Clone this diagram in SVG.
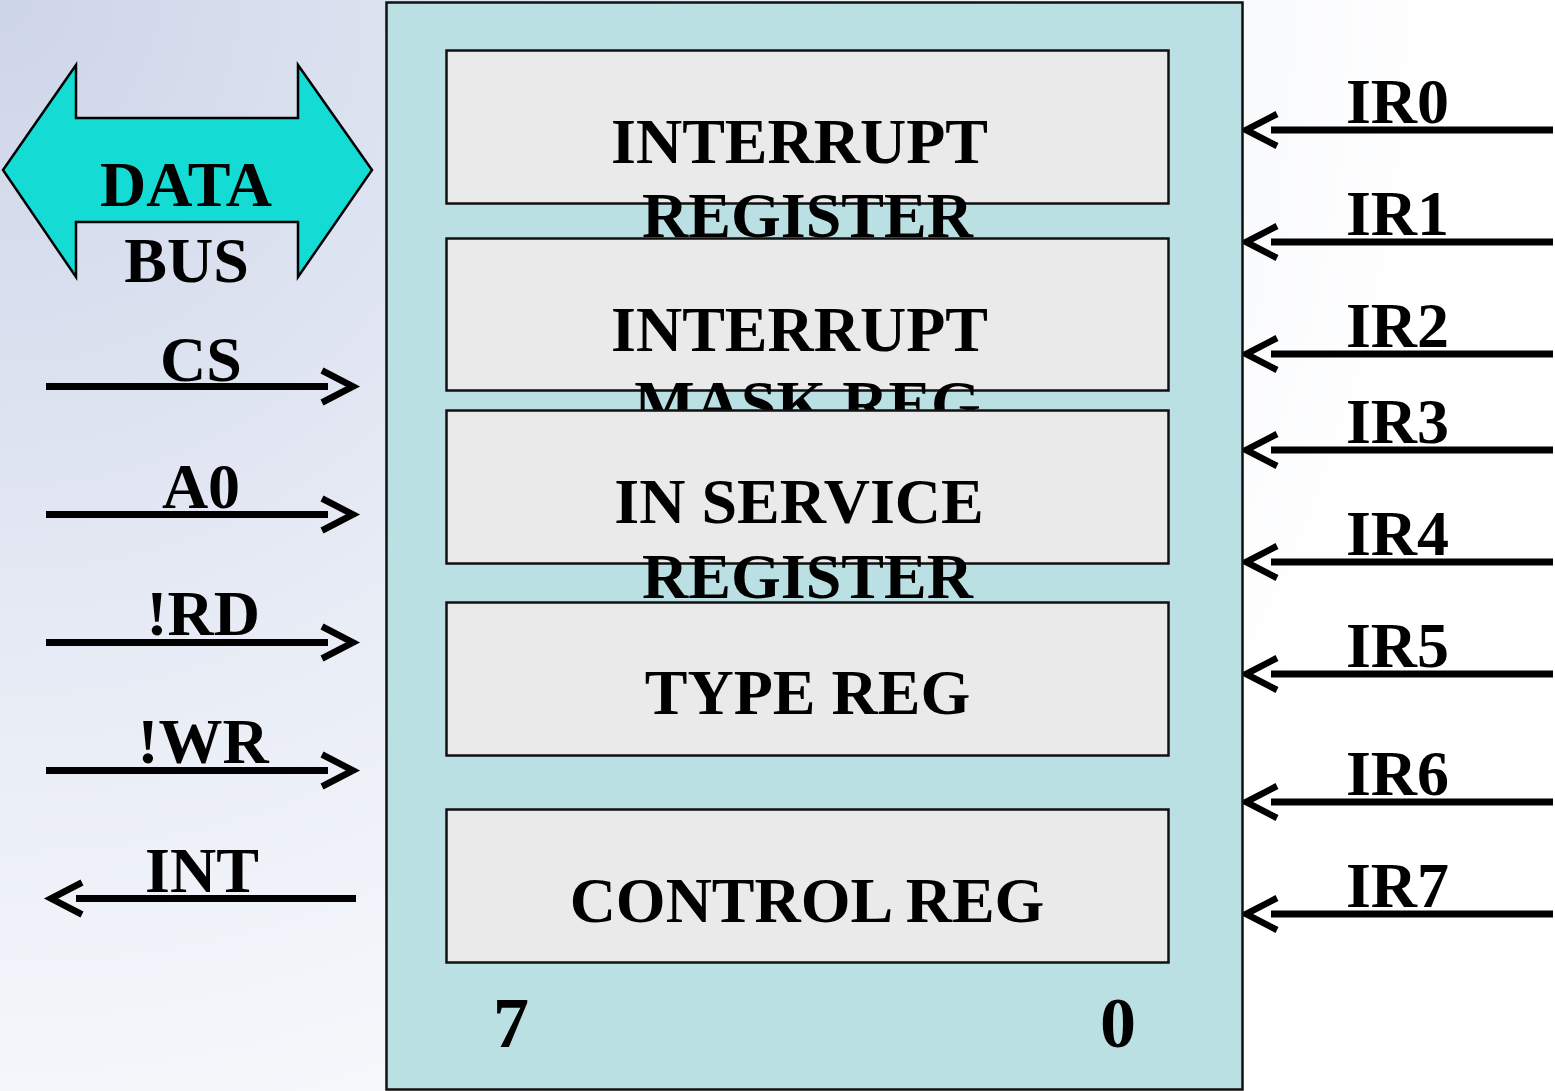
<svg xmlns="http://www.w3.org/2000/svg" width="1555" height="1091" viewBox="0 0 1555 1091">
<defs>
<radialGradient id="bg" gradientUnits="userSpaceOnUse" cx="0" cy="0" r="1450">
<stop offset="0" stop-color="#cdd5e8"/>
<stop offset="0.5" stop-color="#e9edf6"/>
<stop offset="1" stop-color="#ffffff"/>
</radialGradient>
<marker id="chev" markerUnits="userSpaceOnUse" markerWidth="40" markerHeight="40" refX="6" refY="20" orient="auto" overflow="visible">
<path d="M0,4 L31,20 L0,36" fill="none" stroke="#000" stroke-width="6.5" stroke-linejoin="miter" stroke-miterlimit="3"/>
</marker>
<style>
text{font-family:"Liberation Serif","Times New Roman",serif;font-weight:bold;fill:#000;}
.lbl{font-size:64px;text-anchor:middle;}
.reg{fill:#eaeaea;stroke:#111;stroke-width:2.5;}
.wire{stroke:#000;stroke-width:7;fill:none;marker-end:url(#chev);}
</style>
</defs>
<rect x="0" y="0" width="1555" height="1091" fill="url(#bg)"/>

<g id="connectors">
<path class="wire" d="M46,386.5 H328"/>
<path class="wire" d="M46,514.5 H328"/>
<path class="wire" d="M46,642.5 H328"/>
<path class="wire" d="M46,770.5 H328"/>
<path class="wire" d="M356,898.5 H76"/>
<path class="wire" d="M1553,130 H1271"/>
<path class="wire" d="M1553,242 H1271"/>
<path class="wire" d="M1553,354 H1271"/>
<path class="wire" d="M1553,450 H1271"/>
<path class="wire" d="M1553,562 H1271"/>
<path class="wire" d="M1553,674 H1271"/>
<path class="wire" d="M1553,802 H1271"/>
<path class="wire" d="M1553,914 H1271"/>
</g>

<g id="data-bus">
<polygon points="3,170 76,65 76,118 298,118 298,65 372,170 298,277 298,222 76,222 76,277" fill="#14dcd4" stroke="#000" stroke-width="2.5"/>
<text class="lbl" x="186" y="206" font-size="65">DATA</text>
<text class="lbl" x="186.5" y="282">BUS</text>
</g>

<g id="signal-labels">
<text class="lbl" x="201" y="381">CS</text>
<text class="lbl" x="201" y="508">A0</text>
<text class="lbl" x="203" y="635">!RD</text>
<text class="lbl" x="203" y="763">!WR</text>
<text class="lbl" x="202" y="892">INT</text>
<text class="lbl" x="1397.5" y="123">IR0</text>
<text class="lbl" x="1397.5" y="235">IR1</text>
<text class="lbl" x="1397.5" y="347">IR2</text>
<text class="lbl" x="1397.5" y="443">IR3</text>
<text class="lbl" x="1397.5" y="555">IR4</text>
<text class="lbl" x="1397.5" y="667">IR5</text>
<text class="lbl" x="1397.5" y="795">IR6</text>
<text class="lbl" x="1397.5" y="907">IR7</text>
</g>

<g id="pic">
<rect x="386.5" y="2.5" width="856" height="1087" fill="#bbe0e3" stroke="#111" stroke-width="2.5"/>
<text x="511" y="1047" font-size="72" text-anchor="middle">7</text>
<text x="1118" y="1047" font-size="72" text-anchor="middle">0</text>
</g>

<g id="interrupt-register">
<rect class="reg" x="446.5" y="50.5" width="722" height="153"/>
<text class="lbl" x="799.5" y="163">INTERRUPT</text>
<text class="lbl" x="807.5" y="237">REGISTER</text>
</g>
<g id="interrupt-mask-reg">
<rect class="reg" x="446.5" y="238.5" width="722" height="152"/>
<text class="lbl" x="799.5" y="351">INTERRUPT</text>
<text class="lbl" x="807.5" y="425">MASK REG</text>
</g>
<g id="in-service-register">
<rect class="reg" x="446.5" y="410.5" width="722" height="153"/>
<text class="lbl" x="799" y="523">IN SERVICE</text>
<text class="lbl" x="807.5" y="598">REGISTER</text>
</g>
<g id="type-reg">
<rect class="reg" x="446.5" y="602.5" width="722" height="153"/>
<text class="lbl" x="807.5" y="714">TYPE REG</text>
</g>
<g id="control-reg">
<rect class="reg" x="446.5" y="809.5" width="722" height="153"/>
<text class="lbl" x="807" y="922">CONTROL REG</text>
</g>
</svg>
